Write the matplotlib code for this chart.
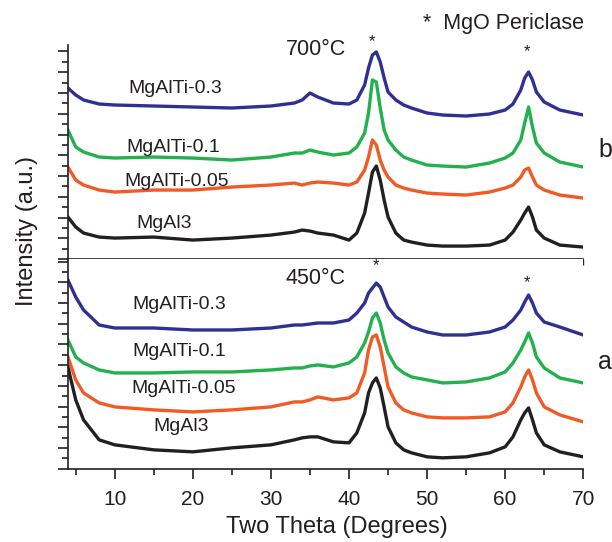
import matplotlib
matplotlib.use("Agg")
import matplotlib.pyplot as plt
from matplotlib.ticker import MultipleLocator

plt.rcParams['font.family'] = ['Liberation Sans', 'DejaVu Sans']

# diffraction angle (degrees) at which the patterns were read
two_theta = [4, 5, 6, 8, 10, 15, 20, 25, 30, 33, 34, 35, 36, 38, 40, 41, 42, 42.5, 43, 43.5,
             44, 44.5, 45, 46, 47, 48, 50, 52, 55, 58, 60, 61, 62, 62.5, 63, 63.5, 64, 65, 67, 70]

# 700 C (panel b), offset intensities in a.u.
b_mgalti03 = [171, 164, 159, 155, 154, 153, 152, 151, 153, 156, 159, 166, 162, 156, 155, 159, 174, 191, 204, 207,
              197, 181, 167, 159, 154, 151, 146, 144, 143, 145, 149, 155, 169, 181, 187, 179, 167, 157, 149, 144]
b_mgalti01 = [129, 112, 107, 102, 101, 102, 101, 99, 102, 106, 106, 109, 107, 104, 106, 112, 126, 146, 179, 177,
              151, 129, 119, 109, 102, 99, 94, 93, 92, 96, 101, 106, 119, 136, 152, 132, 116, 106, 97, 92]
b_mgalti005 = [92, 79, 74, 69, 67, 69, 69, 72, 74, 76, 74, 76, 77, 76, 74, 77, 89, 102, 119, 114,
               99, 89, 82, 74, 71, 69, 66, 65, 64, 67, 71, 74, 82, 89, 91, 82, 74, 69, 64, 61]
b_mgal3 = [42, 32, 26, 22, 21, 22, 19, 21, 24, 27, 29, 28, 26, 24, 19, 26, 46, 66, 87, 93,
           79, 59, 42, 26, 19, 17, 14, 13, 13, 14, 19, 27, 39, 46, 52, 42, 29, 21, 14, 12]

# 450 C (panel a)
a_mgalti03 = [189, 172, 159, 144, 141, 141, 139, 139, 141, 144, 144, 145, 146, 146, 149, 156, 166, 176, 181, 186,
              182, 172, 162, 152, 147, 142, 137, 134, 134, 137, 142, 149, 159, 167, 174, 166, 156, 147, 142, 134]
a_mgalti01 = [129, 112, 106, 99, 96, 96, 97, 97, 99, 101, 101, 103, 104, 102, 106, 112, 126, 137, 151, 156,
              146, 129, 116, 102, 96, 92, 89, 86, 87, 91, 97, 106, 119, 127, 136, 126, 112, 101, 91, 86]
a_mgalti005 = [112, 89, 76, 66, 62, 59, 57, 59, 62, 67, 67, 69, 72, 69, 71, 76, 96, 119, 132, 134,
               122, 102, 82, 66, 59, 56, 52, 51, 51, 52, 57, 66, 82, 92, 99, 89, 76, 62, 54, 47]
a_mgal3 = [102, 69, 49, 29, 24, 19, 17, 21, 24, 29, 31, 32, 32, 27, 26, 36, 56, 76, 86, 91,
           81, 62, 42, 26, 19, 16, 12, 11, 12, 16, 22, 32, 49, 56, 61, 49, 36, 24, 17, 12]

names = ['MgAlTi-0.3', 'MgAlTi-0.1', 'MgAlTi-0.05', 'MgAl3']
colors = ['#2e3192', '#22b14c', '#f15a24', '#231f20']
top_series = [b_mgalti03, b_mgalti01, b_mgalti005, b_mgal3]
bot_series = [a_mgalti03, a_mgalti01, a_mgalti005, a_mgal3]

# label anchor points (degrees, a.u.)
top_label_pos = [(11.7, 171), (11.5, 112), (11.2, 78), (12.8, 36)]
bot_label_pos = [(12.2, 165), (12.2, 117), (12.1, 80), (15.0, 42)]

txt = '#231f20'
fig = plt.figure(figsize=(6.12, 5.42), dpi=100)
ax_top = fig.add_axes([0.111, 0.522, 0.842, 0.395])
ax_bot = fig.add_axes([0.111, 0.135, 0.842, 0.387])

for ax, series, lpos, ytop in [(ax_top, top_series, top_label_pos, 214),
                               (ax_bot, bot_series, bot_label_pos, 210)]:
    for s, c, n, p in zip(series, colors, names, lpos):
        ax.plot(two_theta, s, color=c, lw=2.4)
        ax.text(p[0], p[1], n, fontsize=14, color=txt, va='center', ha='left')
    ax.set_xlim(4, 70)
    ax.set_ylim(0, ytop)
    ax.spines['top'].set_visible(False)
    ax.spines['right'].set_visible(False)
    for sp in ['left', 'bottom']:
        ax.spines[sp].set_linewidth(1.2)
        ax.spines[sp].set_color(txt)
    ax.yaxis.set_major_locator(MultipleLocator(20.75))
    ax.yaxis.set_minor_locator(MultipleLocator(10.375))
    ax.xaxis.set_major_locator(MultipleLocator(10))
    ax.xaxis.set_minor_locator(MultipleLocator(5))
    ax.tick_params(axis='y', which='major', direction='out', length=7, width=1.2, color=txt, labelleft=False)
    ax.tick_params(axis='y', which='minor', direction='out', length=4, width=1.2, color=txt)

ax_top.tick_params(axis='x', which='both', direction='out', length=4, width=1, color=txt, labelbottom=False)
ax_bot.tick_params(axis='x', which='major', direction='out', length=7, width=1.2, color=txt,
                   labelsize=15, labelcolor=txt, pad=8)
ax_bot.tick_params(axis='x', which='minor', direction='out', length=4, width=1.2, color=txt)

# temperatures, peak markers and panel letters
ax_top.text(31.9, 209, '700°C', fontsize=15.5, color=txt, va='center')
ax_bot.text(31.9, 191, '450°C', fontsize=15.5, color=txt, va='center')
ax_top.text(43.0, 217, '*', fontsize=12, color=txt, ha='center', va='center')
ax_top.text(62.8, 207, '*', fontsize=12, color=txt, ha='center', va='center')
ax_bot.text(43.5, 203, '*', fontsize=12, color=txt, ha='center', va='center')
ax_bot.text(62.8, 186, '*', fontsize=12, color=txt, ha='center', va='center')

fig.text(423 / 612, 1 - 23 / 542, '*  MgO Periclase', fontsize=15.5, color=txt, ha='left', va='center')
fig.text(598 / 612, 1 - 150 / 542, 'b', fontsize=18, color=txt, ha='left', va='center')
fig.text(598 / 612, 1 - 362 / 542, 'a', fontsize=18, color=txt, ha='left', va='center')

fig.text(27 / 612, 1 - 231 / 542, 'Intensity (a.u.)', fontsize=17, color=txt, rotation=90,
         ha='center', va='center')
fig.text(337 / 612, 1 - 527 / 542, 'Two Theta (Degrees)', fontsize=17, color=txt, ha='center', va='center')

fig.savefig('out.png', dpi=100)
